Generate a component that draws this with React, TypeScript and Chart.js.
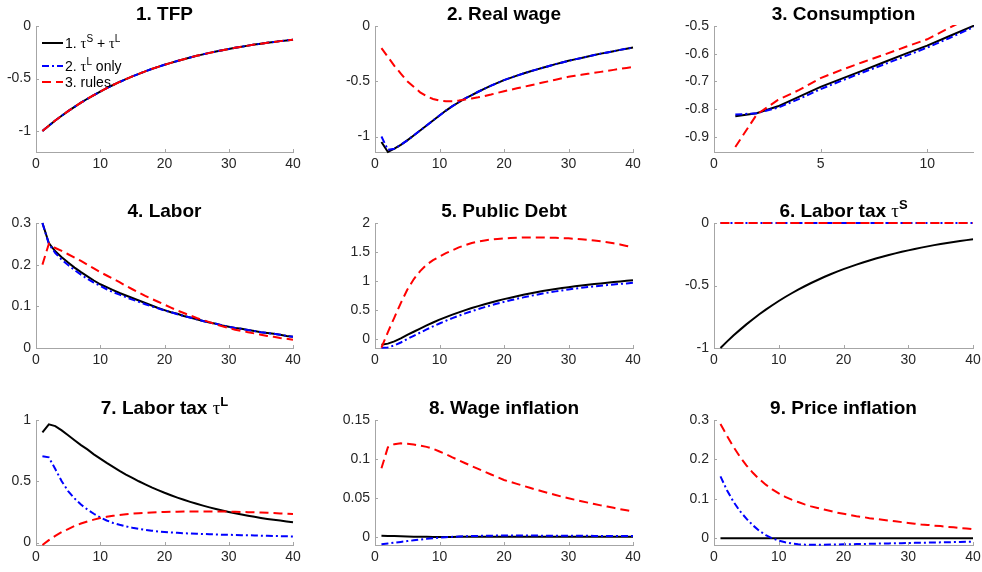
import React, { useEffect, useRef } from 'react';
import { Chart, registerables } from 'chart.js';

Chart.register(...registerables);

// ---------------- data ----------------
const periods = [1, 2, 3, 4, 5, 6, 7, 8, 9, 10, 11, 12, 13, 14, 15, 16, 17, 18, 19, 20, 21, 22, 23, 24, 25, 26, 27, 28, 29, 30, 31, 32, 33, 34, 35, 36, 37, 38, 39, 40];
const periodsShort = [1, 2, 3, 4, 5, 6, 7, 8, 9, 10, 11, 12, 13];

const xTicks40 = [0, 10, 20, 30, 40];
const xTicks12 = [0, 5, 10];

const legendLabels = ['1. τ^S + τ^L', '2. τ^L only', '3. rules'];

// 1. TFP (all three coincide)
const tfpAll = [-1, -0.949, -0.9, -0.855, -0.811, -0.77, -0.73, -0.693, -0.658, -0.624, -0.592, -0.562, -0.533, -0.506, -0.48, -0.456, -0.432, -0.41, -0.389, -0.369, -0.351, -0.333, -0.316, -0.3, -0.284, -0.27, -0.256, -0.243, -0.23, -0.219, -0.208, -0.197, -0.187, -0.177, -0.168, -0.16, -0.152, -0.144, -0.137, -0.13];
const tfpTicks = [-1, -0.5, 0];

// 2. Real wage
const wageBlack = [-1.05, -1.14, -1.11, -1.075, -1.035, -0.99, -0.945, -0.9, -0.855, -0.81, -0.765, -0.725, -0.69, -0.655, -0.625, -0.595, -0.567, -0.54, -0.515, -0.49, -0.469, -0.449, -0.43, -0.412, -0.395, -0.378, -0.362, -0.345, -0.33, -0.315, -0.302, -0.289, -0.276, -0.263, -0.25, -0.239, -0.228, -0.216, -0.205, -0.195];
const wageBlue = [-1.0, -1.12, -1.11, -1.075, -1.035, -0.99, -0.945, -0.9, -0.855, -0.81, -0.765, -0.725, -0.69, -0.655, -0.625, -0.595, -0.567, -0.54, -0.515, -0.49, -0.469, -0.449, -0.43, -0.412, -0.395, -0.378, -0.362, -0.345, -0.33, -0.315, -0.302, -0.289, -0.276, -0.263, -0.25, -0.239, -0.228, -0.216, -0.205, -0.195];
const wageRed = [-0.2, -0.28, -0.36, -0.43, -0.5, -0.55, -0.6, -0.635, -0.66, -0.675, -0.68, -0.68, -0.675, -0.665, -0.655, -0.645, -0.633, -0.62, -0.605, -0.59, -0.577, -0.564, -0.551, -0.538, -0.525, -0.512, -0.499, -0.486, -0.473, -0.46, -0.451, -0.442, -0.433, -0.424, -0.415, -0.406, -0.397, -0.388, -0.379, -0.37];
const wageTicks = [-1, -0.5, 0];

// 3. Consumption (first 13 periods shown)
const consBlack = [-0.826, -0.815, -0.79, -0.755, -0.72, -0.69, -0.66, -0.63, -0.6, -0.571, -0.538, -0.505, -0.473];
const consBlue = [-0.82, -0.815, -0.795, -0.763, -0.728, -0.697, -0.667, -0.638, -0.608, -0.578, -0.545, -0.51, -0.478];
const consRed = [-0.937, -0.82, -0.767, -0.731, -0.688, -0.658, -0.63, -0.603, -0.575, -0.548, -0.508, -0.47, -0.435];
const consTicks = [-0.9, -0.8, -0.7, -0.6, -0.5];

// 4. Labor
const laborBlack = [0.3, 0.252, 0.232, 0.218, 0.205, 0.193, 0.182, 0.172, 0.162, 0.153, 0.146, 0.139, 0.132, 0.126, 0.12, 0.114, 0.108, 0.102, 0.096, 0.091, 0.086, 0.082, 0.077, 0.073, 0.069, 0.065, 0.061, 0.058, 0.054, 0.051, 0.048, 0.046, 0.043, 0.041, 0.038, 0.036, 0.034, 0.032, 0.029, 0.027];
const laborBlue = [0.3, 0.25, 0.228, 0.212, 0.199, 0.187, 0.176, 0.166, 0.157, 0.149, 0.141, 0.134, 0.128, 0.122, 0.116, 0.111, 0.105, 0.1, 0.095, 0.09, 0.086, 0.081, 0.077, 0.073, 0.069, 0.065, 0.061, 0.058, 0.054, 0.051, 0.048, 0.046, 0.043, 0.041, 0.038, 0.036, 0.034, 0.032, 0.029, 0.027];
const laborRed = [0.2, 0.25, 0.24, 0.233, 0.225, 0.217, 0.209, 0.2, 0.191, 0.182, 0.174, 0.166, 0.158, 0.149, 0.141, 0.133, 0.125, 0.118, 0.111, 0.104, 0.097, 0.09, 0.084, 0.078, 0.072, 0.067, 0.062, 0.057, 0.052, 0.048, 0.044, 0.041, 0.038, 0.035, 0.032, 0.029, 0.027, 0.024, 0.022, 0.02];
const laborTicks = [0, 0.1, 0.2, 0.3];

// 5. Public Debt
const debtBlack = [-0.1, -0.08, -0.04, 0.01, 0.07, 0.125, 0.18, 0.235, 0.285, 0.333, 0.378, 0.42, 0.46, 0.498, 0.534, 0.567, 0.6, 0.63, 0.66, 0.688, 0.712, 0.738, 0.762, 0.785, 0.806, 0.826, 0.845, 0.862, 0.878, 0.893, 0.909, 0.923, 0.936, 0.948, 0.959, 0.97, 0.981, 0.993, 1.004, 1.015];
const debtBlue = [-0.15, -0.145, -0.11, -0.06, 0.0, 0.055, 0.11, 0.165, 0.218, 0.268, 0.315, 0.36, 0.402, 0.442, 0.48, 0.515, 0.549, 0.581, 0.611, 0.64, 0.667, 0.693, 0.718, 0.741, 0.763, 0.784, 0.803, 0.821, 0.838, 0.854, 0.869, 0.883, 0.896, 0.908, 0.919, 0.93, 0.94, 0.95, 0.959, 0.968];
const debtRed = [-0.15, 0.12, 0.37, 0.62, 0.85, 1.03, 1.17, 1.28, 1.36, 1.42, 1.48, 1.53, 1.58, 1.62, 1.655, 1.68, 1.7, 1.715, 1.725, 1.733, 1.74, 1.745, 1.75, 1.752, 1.752, 1.75, 1.748, 1.745, 1.74, 1.735, 1.728, 1.72, 1.71, 1.698, 1.685, 1.67, 1.65, 1.63, 1.605, 1.58];
const debtTicks = [0, 0.5, 1, 1.5, 2];

// 6. Labor tax tau^S
const taxSBlack = [-1, -0.949, -0.9, -0.855, -0.811, -0.77, -0.73, -0.693, -0.658, -0.624, -0.592, -0.562, -0.533, -0.506, -0.48, -0.456, -0.432, -0.41, -0.389, -0.369, -0.351, -0.333, -0.316, -0.3, -0.284, -0.27, -0.256, -0.243, -0.23, -0.219, -0.208, -0.197, -0.187, -0.177, -0.168, -0.16, -0.152, -0.144, -0.137, -0.13];
const taxSBlue = [0, 0, 0, 0, 0, 0, 0, 0, 0, 0, 0, 0, 0, 0, 0, 0, 0, 0, 0, 0, 0, 0, 0, 0, 0, 0, 0, 0, 0, 0, 0, 0, 0, 0, 0, 0, 0, 0, 0, 0];
const taxSRed = [0, 0, 0, 0, 0, 0, 0, 0, 0, 0, 0, 0, 0, 0, 0, 0, 0, 0, 0, 0, 0, 0, 0, 0, 0, 0, 0, 0, 0, 0, 0, 0, 0, 0, 0, 0, 0, 0, 0, 0];
const taxSTicks = [-1, -0.5, 0];

// 7. Labor tax tau^L
const taxLBlack = [0.9, 0.965, 0.95, 0.915, 0.875, 0.835, 0.795, 0.76, 0.72, 0.685, 0.65, 0.617, 0.585, 0.555, 0.527, 0.5, 0.475, 0.45, 0.428, 0.406, 0.386, 0.367, 0.349, 0.332, 0.316, 0.301, 0.287, 0.274, 0.262, 0.25, 0.239, 0.229, 0.219, 0.21, 0.201, 0.193, 0.186, 0.179, 0.172, 0.166];
const taxLBlue = [0.705, 0.695, 0.6, 0.5, 0.42, 0.36, 0.31, 0.27, 0.235, 0.205, 0.18, 0.16, 0.145, 0.132, 0.121, 0.112, 0.104, 0.097, 0.091, 0.086, 0.082, 0.079, 0.076, 0.074, 0.072, 0.07, 0.068, 0.066, 0.064, 0.063, 0.062, 0.06, 0.059, 0.058, 0.056, 0.055, 0.054, 0.052, 0.051, 0.05];
const taxLRed = [-0.02, 0.02, 0.055, 0.085, 0.11, 0.135, 0.155, 0.172, 0.187, 0.2, 0.21, 0.218, 0.225, 0.231, 0.236, 0.24, 0.243, 0.246, 0.248, 0.25, 0.251, 0.252, 0.253, 0.253, 0.254, 0.254, 0.254, 0.253, 0.253, 0.252, 0.251, 0.25, 0.248, 0.247, 0.245, 0.243, 0.241, 0.238, 0.236, 0.233];
const taxLTicks = [0, 0.5, 1];

// 8. Wage inflation
const wInfBlack = [0.0015, 0.0012, 0.0009, 0.0006, 0.0004, 0.0002, 0.0001, 0, -0.0001, -0.0001, -0.0001, -0.0001, 0, 0, 0, 0, 0, 0, 0, 0, 0, 0, 0, 0, 0, 0, 0, 0, 0, 0, 0, 0, 0, 0, 0, 0, 0, 0, 0, 0];
const wInfBlue = [-0.0095, -0.0085, -0.0075, -0.0065, -0.0055, -0.0045, -0.0035, -0.0026, -0.0018, -0.0011, -0.0005, 0, 0.0004, 0.0007, 0.001, 0.0012, 0.0014, 0.0015, 0.0016, 0.0016, 0.0016, 0.0016, 0.0016, 0.0016, 0.0016, 0.0015, 0.0015, 0.0015, 0.0014, 0.0014, 0.0014, 0.0013, 0.0013, 0.0012, 0.0012, 0.0012, 0.0011, 0.0011, 0.001, 0.001];
const wInfRed = [0.088, 0.115, 0.119, 0.12, 0.1195, 0.1185, 0.117, 0.1155, 0.113, 0.1095, 0.106, 0.102, 0.0983, 0.0945, 0.0908, 0.0872, 0.0836, 0.08, 0.0765, 0.073, 0.0705, 0.068, 0.0655, 0.063, 0.0605, 0.0582, 0.056, 0.0538, 0.0515, 0.0495, 0.0476, 0.0457, 0.0439, 0.0421, 0.0404, 0.0388, 0.0372, 0.0356, 0.0341, 0.0326];
const wInfTicks = [0, 0.05, 0.1, 0.15];

// 9. Price inflation
const pInfBlack = [0, 0, 0, 0, 0, 0, 0, 0, 0, 0, 0, 0, 0, 0, 0, 0, 0, 0, 0, 0, 0, 0, 0, 0, 0, 0, 0, 0, 0, 0, 0, 0, 0, 0, 0, 0, 0, 0, 0, 0];
const pInfBlue = [0.157, 0.122, 0.093, 0.069, 0.05, 0.033, 0.019, 0.008, 0.0, -0.006, -0.01, -0.013, -0.015, -0.016, -0.0165, -0.0165, -0.0163, -0.016, -0.0157, -0.0154, -0.015, -0.0147, -0.0143, -0.014, -0.0136, -0.0133, -0.013, -0.0126, -0.0123, -0.012, -0.0116, -0.0113, -0.011, -0.0106, -0.0103, -0.01, -0.0096, -0.0093, -0.009, -0.0087];
const pInfRed = [0.29, 0.26, 0.232, 0.207, 0.185, 0.166, 0.15, 0.136, 0.124, 0.114, 0.105, 0.098, 0.092, 0.086, 0.081, 0.077, 0.073, 0.069, 0.065, 0.062, 0.059, 0.056, 0.054, 0.051, 0.049, 0.047, 0.045, 0.043, 0.041, 0.039, 0.037, 0.035, 0.034, 0.032, 0.031, 0.029, 0.028, 0.026, 0.025, 0.023];
const pInfTicks = [0, 0.1, 0.2, 0.3];

// ---------------- styling / layout ----------------
const FF = '"Liberation Sans", Helvetica, Arial, sans-serif';
const GF = '"Liberation Serif", "DejaVu Serif", serif';
const AXIS = '#a6a6a6';
const TXT = '#262626';

const COLS: [number, number][] = [[36, 293], [375, 633], [714, 973]];
const ROWS: [number, number][] = [[26, 152], [223, 348], [420, 545]];
const YW = 60, PT = 36, PR = 14, XH = 24;

type Seg = { t: string; k: string };

interface PanelCfg {
  col: number; row: number;
  title: Seg[];
  x: number[]; xmin: number; xmax: number; xTicks: number[];
  ymin: number; ymax: number; yTicks: number[];
  black: number[]; blue: number[]; red: number[];
  legend?: boolean;
  clip: number;
}

const panels: PanelCfg[] = [
  { col: 0, row: 0, title: [{ t: '1. TFP', k: 'b' }], x: periods, xmin: 0, xmax: 40, xTicks: xTicks40, ymin: -1.2, ymax: 0, yTicks: tfpTicks, black: tfpAll, blue: tfpAll, red: tfpAll, legend: true, clip: 3 },
  { col: 1, row: 0, title: [{ t: '2. Real wage', k: 'b' }], x: periods, xmin: 0, xmax: 40, xTicks: xTicks40, ymin: -1.14, ymax: 0, yTicks: wageTicks, black: wageBlack, blue: wageBlue, red: wageRed, clip: 2 },
  { col: 2, row: 0, title: [{ t: '3. Consumption', k: 'b' }], x: periodsShort, xmin: 0, xmax: 12.15, xTicks: xTicks12, ymin: -0.955, ymax: -0.5, yTicks: consTicks, black: consBlack, blue: consBlue, red: consRed, clip: 1 },
  { col: 0, row: 1, title: [{ t: '4. Labor', k: 'b' }], x: periods, xmin: 0, xmax: 40, xTicks: xTicks40, ymin: 0, ymax: 0.3, yTicks: laborTicks, black: laborBlack, blue: laborBlue, red: laborRed, clip: 3 },
  { col: 1, row: 1, title: [{ t: '5. Public Debt', k: 'b' }], x: periods, xmin: 0, xmax: 40, xTicks: xTicks40, ymin: -0.155, ymax: 2, yTicks: debtTicks, black: debtBlack, blue: debtBlue, red: debtRed, clip: 2 },
  { col: 2, row: 1, title: [{ t: '6. Labor tax ', k: 'b' }, { t: 'τ', k: 'g' }, { t: 'S', k: 's' }], x: periods, xmin: 0, xmax: 40, xTicks: xTicks40, ymin: -1, ymax: 0, yTicks: taxSTicks, black: taxSBlack, blue: taxSBlue, red: taxSRed, clip: 3 },
  { col: 0, row: 2, title: [{ t: '7. Labor tax ', k: 'b' }, { t: 'τ', k: 'g' }, { t: 'L', k: 's' }], x: periods, xmin: 0, xmax: 40, xTicks: xTicks40, ymin: -0.02, ymax: 1, yTicks: taxLTicks, black: taxLBlack, blue: taxLBlue, red: taxLRed, clip: 2 },
  { col: 1, row: 2, title: [{ t: '8. Wage inflation', k: 'b' }], x: periods, xmin: 0, xmax: 40, xTicks: xTicks40, ymin: -0.0105, ymax: 0.15, yTicks: wInfTicks, black: wInfBlack, blue: wInfBlue, red: wInfRed, clip: 2 },
  { col: 2, row: 2, title: [{ t: '9. Price inflation', k: 'b' }], x: periods, xmin: 0, xmax: 40, xTicks: xTicks40, ymin: -0.017, ymax: 0.3, yTicks: pInfTicks, black: pInfBlack, blue: pInfBlue, red: pInfRed, clip: 2 },
];

const TITLE_FONTS: Record<string, { f: string; dy: number }> = {
  b: { f: `bold 19px ${FF}`, dy: 0 },
  g: { f: `19px ${GF}`, dy: 0 },
  s: { f: `bold 13px ${FF}`, dy: -8 },
};
const LEG_FONTS: Record<string, { f: string; dy: number }> = {
  n: { f: `14px ${FF}`, dy: 0 },
  g: { f: `14.5px ${GF}`, dy: 0 },
  s: { f: `10px ${FF}`, dy: -6 },
};

function parseLabel(s: string): Seg[] {
  // "τ^S" -> tau + superscript
  const out: Seg[] = [];
  let i = 0;
  let buf = '';
  while (i < s.length) {
    const c = s[i];
    if (c === 'τ') {
      if (buf) { out.push({ t: buf, k: 'n' }); buf = ''; }
      out.push({ t: 'τ', k: 'g' });
      i++;
    } else if (c === '^') {
      if (buf) { out.push({ t: buf, k: 'n' }); buf = ''; }
      out.push({ t: s[i + 1], k: 's' });
      i += 2;
    } else {
      buf += c;
      i++;
    }
  }
  if (buf) out.push({ t: buf, k: 'n' });
  return out;
}

function drawSegs(ctx: CanvasRenderingContext2D, segs: Seg[], fonts: Record<string, { f: string; dy: number }>, x: number, y: number, align: 'left' | 'center') {
  let total = 0;
  const widths = segs.map((s) => {
    ctx.font = fonts[s.k].f;
    const w = ctx.measureText(s.t).width;
    total += w;
    return w;
  });
  let cx = align === 'center' ? x - total / 2 : x;
  ctx.textAlign = 'left';
  ctx.textBaseline = 'alphabetic';
  segs.forEach((s, i) => {
    ctx.font = fonts[s.k].f;
    ctx.fillText(s.t, cx, y + fonts[s.k].dy);
    cx += widths[i];
  });
}

const SERIES_STYLE = [
  { color: '#ff0000', dash: [9, 5] },
  { color: '#0000ff', dash: [7, 3, 2, 3] },
  { color: '#000000', dash: [] as number[] },
];

function buildConfig(p: PanelCfg): any {
  const mk = (vals: number[]) => vals.map((v, i) => ({ x: p.x[i], y: v }));
  const series = [p.red, p.blue, p.black]; // first dataset drawn on top
  const datasets = series.map((vals, i) => ({
    data: mk(vals),
    borderColor: SERIES_STYLE[i].color,
    borderDash: SERIES_STYLE[i].dash,
    borderWidth: 2,
    pointRadius: 0,
    tension: 0,
    fill: false,
    clip: p.clip,
  }));

  const titlePlugin = {
    id: 'panelTitle',
    afterDraw(chart: any) {
      const { ctx, chartArea: ca } = chart;
      ctx.save();
      ctx.fillStyle = '#000';
      drawSegs(ctx, p.title, TITLE_FONTS, (ca.left + ca.right) / 2, ca.top - 6, 'center');
      ctx.restore();
    },
  };

  const tickPlugin = {
    id: 'inTicks',
    afterDraw(chart: any) {
      const { ctx, chartArea: ca, scales } = chart;
      ctx.save();
      ctx.strokeStyle = AXIS;
      ctx.lineWidth = 1;
      ctx.beginPath();
      p.xTicks.forEach((v) => {
        const px = Math.round(scales.x.getPixelForValue(v)) + 0.5;
        ctx.moveTo(px, ca.bottom);
        ctx.lineTo(px, ca.bottom - 3);
      });
      p.yTicks.forEach((v) => {
        const py = Math.round(scales.y.getPixelForValue(v)) + 0.5;
        ctx.moveTo(ca.left, py);
        ctx.lineTo(ca.left + 3, py);
      });
      ctx.stroke();
      ctx.restore();
    },
  };

  const legendPlugin = {
    id: 'legendBox',
    afterDraw(chart: any) {
      if (!p.legend) return;
      const { ctx, chartArea: ca } = chart;
      const rowsY = [17, 40, 56];
      const styles = [SERIES_STYLE[2], SERIES_STYLE[1], SERIES_STYLE[0]];
      ctx.save();
      legendLabels.forEach((lab, i) => {
        const y = ca.top + rowsY[i];
        ctx.strokeStyle = styles[i].color;
        ctx.lineWidth = 2;
        ctx.setLineDash(styles[i].dash);
        ctx.beginPath();
        ctx.moveTo(ca.left + 6, y);
        ctx.lineTo(ca.left + 27, y);
        ctx.stroke();
        ctx.setLineDash([]);
        ctx.fillStyle = '#000';
        drawSegs(ctx, parseLabel(lab), LEG_FONTS, ca.left + 29, y + 5, 'left');
      });
      ctx.restore();
    },
  };

  const tickFont = { family: FF, size: 14 };

  return {
    type: 'line',
    data: { datasets },
    options: {
      responsive: false,
      animation: false,
      devicePixelRatio: 1,
      layout: { padding: { left: 0, top: PT, right: PR, bottom: 0 } },
      plugins: { legend: { display: false }, tooltip: { enabled: false }, title: { display: false } },
      scales: {
        x: {
          type: 'linear',
          min: p.xmin,
          max: p.xmax,
          grid: { display: false, drawTicks: false },
          border: { display: true, color: AXIS, width: 1 },
          ticks: { font: tickFont, color: TXT, padding: 4, maxRotation: 0, callback: (v: number) => String(v) },
          afterBuildTicks: (s: any) => { s.ticks = p.xTicks.map((v) => ({ value: v })); },
          afterFit: (s: any) => { s.height = XH; },
        },
        y: {
          type: 'linear',
          min: p.ymin,
          max: p.ymax,
          grid: { display: false, drawTicks: false },
          border: { display: true, color: AXIS, width: 1 },
          ticks: { font: tickFont, color: TXT, padding: 5, callback: (v: number) => String(v) },
          afterBuildTicks: (s: any) => { s.ticks = p.yTicks.map((v) => ({ value: v })); },
          afterFit: (s: any) => { s.width = YW; },
        },
      },
    },
    plugins: [titlePlugin, tickPlugin, legendPlugin],
  };
}

function Panel({ cfg }: { cfg: PanelCfg }) {
  const ref = useRef<HTMLCanvasElement>(null);
  const [cl, cr] = COLS[cfg.col];
  const [ct, cb] = ROWS[cfg.row];
  const left = cl - YW;
  const top = ct - PT;
  const w = cr - cl + YW + PR;
  const h = cb - ct + PT + XH;
  useEffect(() => {
    const chart = new Chart(ref.current as HTMLCanvasElement, buildConfig(cfg));
    return () => chart.destroy();
  }, [cfg]);
  return (
    <canvas
      ref={ref}
      width={w}
      height={h}
      style={{ position: 'absolute', left, top, width: w, height: h }}
    />
  );
}

export default function App() {
  return (
    <div
      style={{
        position: 'absolute',
        left: 0,
        top: 0,
        width: 982,
        height: 572,
        overflow: 'hidden',
        background: '#ffffff',
      }}
    >
      {panels.map((p, i) => (
        <Panel key={i} cfg={p} />
      ))}
    </div>
  );
}
